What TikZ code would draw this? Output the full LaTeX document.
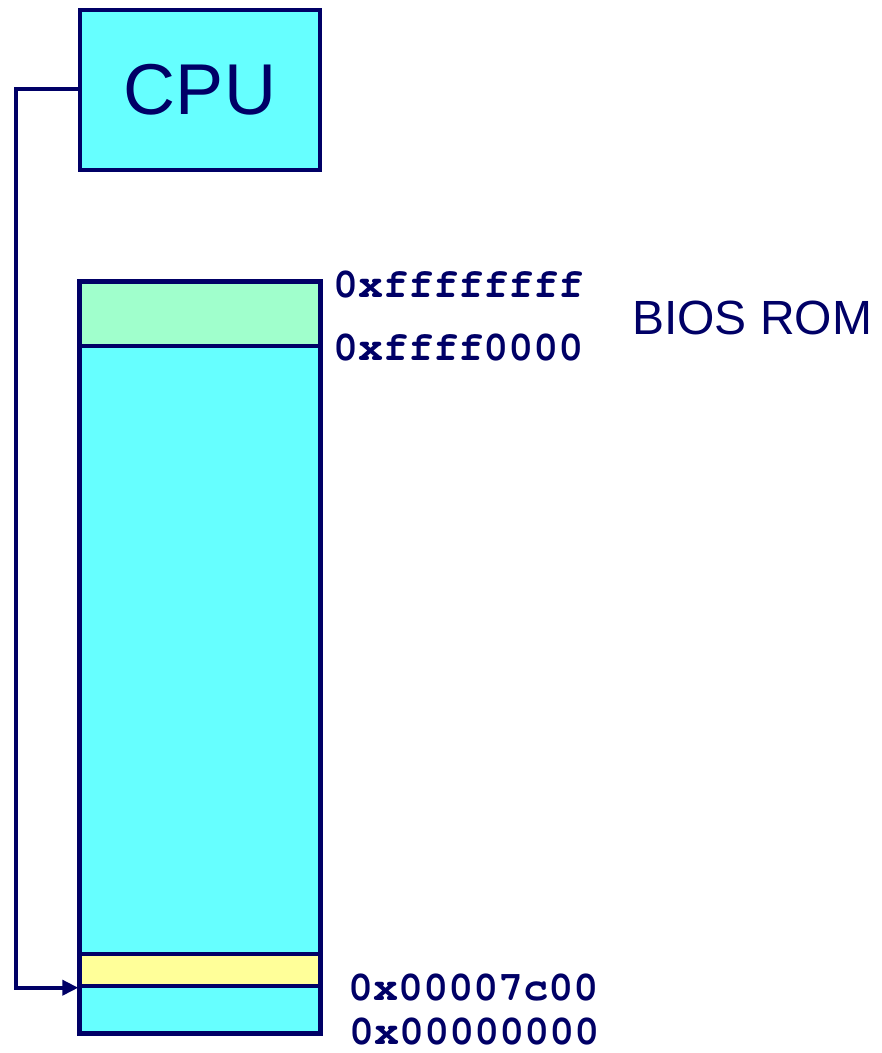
\documentclass[tikz,border=0pt]{standalone}
\usepackage{fontspec}
\setmainfont{Liberation Sans}
\newcommand\addrfont{\fontencoding{T1}\fontfamily{pcr}\bfseries}
\usepackage{tikz}
\usetikzlibrary{arrows.meta}
\definecolor{ink}{HTML}{000066}
\definecolor{memcyan}{HTML}{66FFFF}
\definecolor{romgreen}{HTML}{A0FFCC}
\definecolor{bootyellow}{HTML}{FFFF99}

\begin{document}
\begin{tikzpicture}[x=1pt, y=-1pt,
    box/.style = {draw = ink, line width = 3.4pt, minimum width = 240pt, inner sep = 0pt},
    addr/.style = {text = ink, anchor = west, inner sep = 0pt, font = \addrfont\fontsize{41.7}{42}\selectfont},
    link/.style = {draw = ink, line width = 3.8pt, -{Triangle[length = 16pt, width = 15pt]}}]
    \useasboundingbox (0, 0) rectangle (882, 1053);
    % cpu and memory
    \node [box, fill = memcyan, minimum height = 160pt, text = ink, font = \fontsize{72}{72}\selectfont] (cpu) at (200, 90) {CPU};
    \node [box, fill = memcyan, minimum height = 751pt] (mem) at (200, 657.5) {};
    \node [box, fill = romgreen, minimum height = 64pt] (rom) at (200, 314) {};
    \node [box, fill = bootyellow, minimum height = 32pt] (boot) at (200, 970) {};
    \draw [draw = ink, line width = 3.4pt] (mem.north west) rectangle (mem.south east);
    % addresses
    \foreach \i\x\y\t in {1/333/285/0xffffffff, 2/333/348/0x{}ffff0000, 3/348/988/0x00007c00, 4/349/1032/0x00000000} {
        \node [addr] (addr\i) at (\x, \y) {\t};
    }
    \node [text = ink, anchor = west, inner sep = 0pt, font = \fontsize{48}{48}\selectfont] (biosrom) at (632, 318) {BIOS ROM};
    % cpu fetches from the boot sector
    \coordinate (bend) at (16, 89);
    \draw [link] (cpu.west |- bend) -- (bend) |- (boot.south west);
\end{tikzpicture}
\end{document}
